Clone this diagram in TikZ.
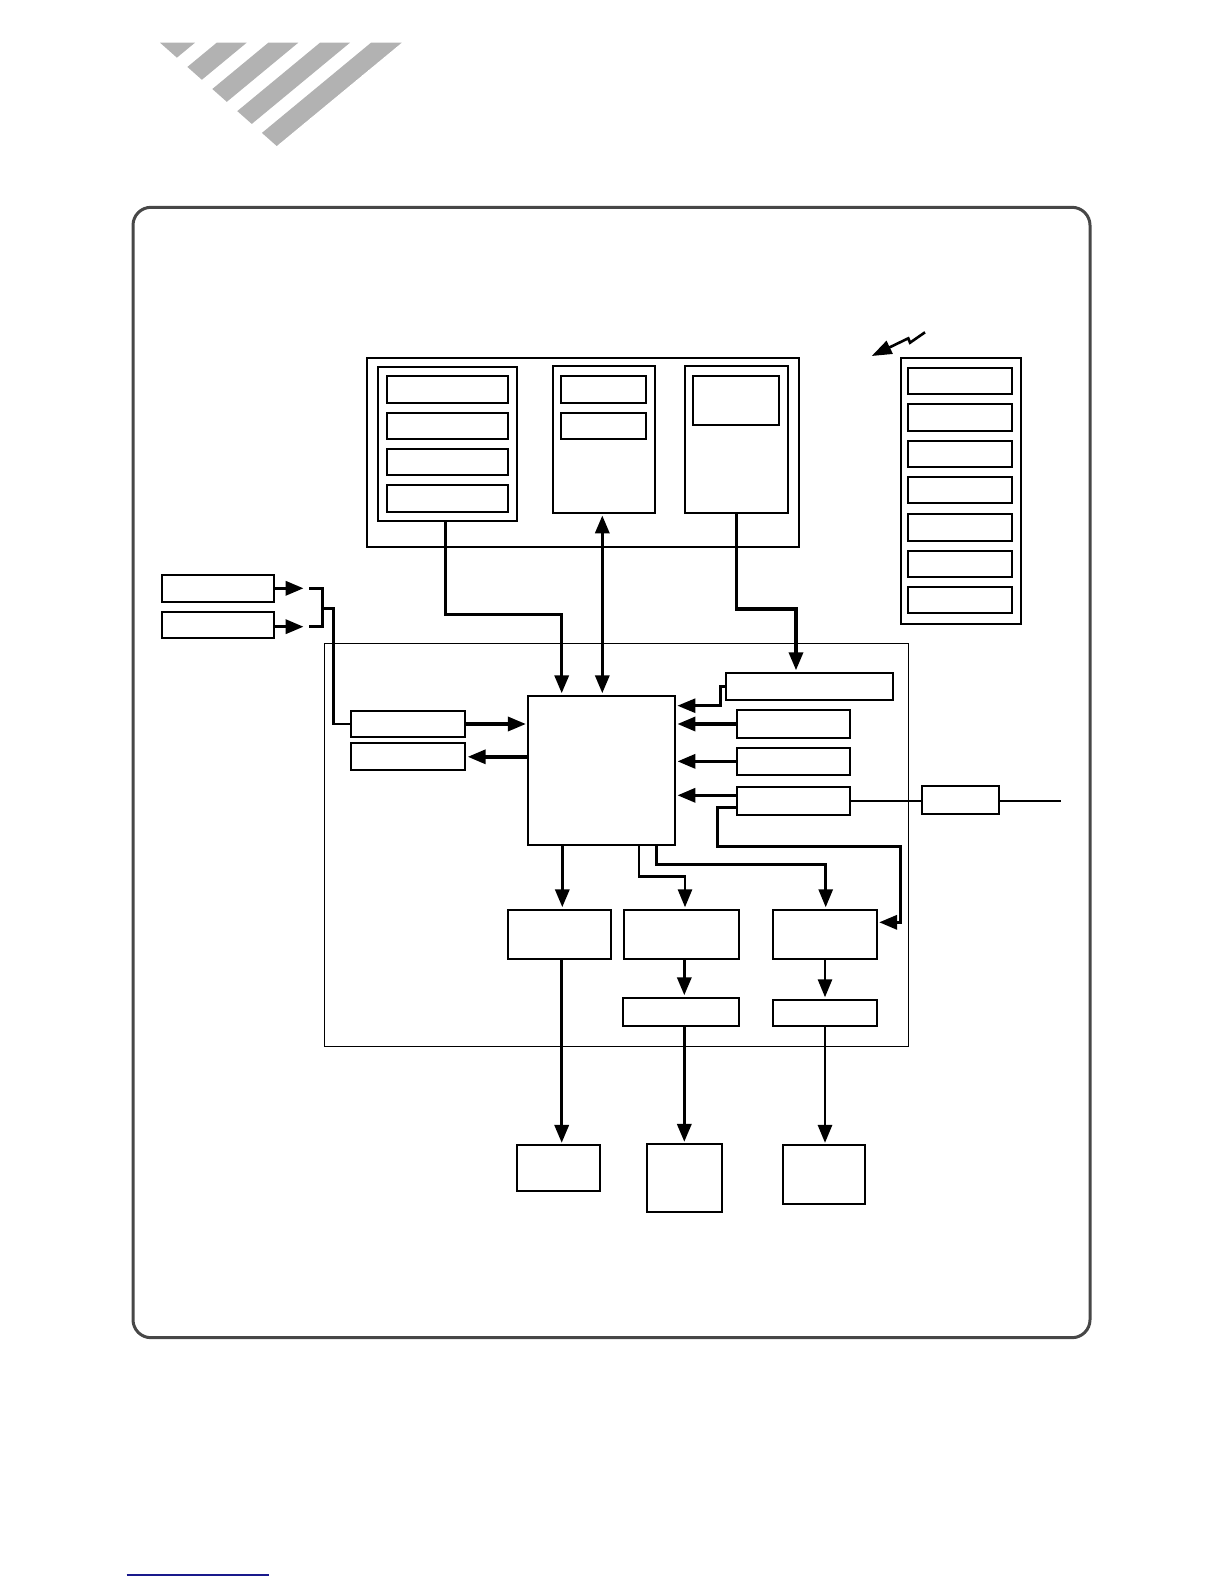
\documentclass[tikz,border=0pt]{standalone}
\usetikzlibrary{arrows.meta,fit,calc}
\newcommand\bx[6][]{\node[bx,fit={(#3,#4)(#5,#6)},#1] (#2) {};}
\begin{document}
\begin{tikzpicture}[x=0.5pt,y=-0.5pt,
  bx/.style={draw,line width=0.95pt,inner sep=0pt,outer sep=0pt},
  bxk/.style={line width=1.15pt},
  bxt/.style={line width=0.75pt},
  conn/.style={line width=1.7pt},
  connm/.style={line width=1.4pt},
  connt/.style={line width=1.1pt},
  arr/.style={-{Triangle[length=9pt,width=7pt]},shorten >=1.2pt},
  darr/.style={{Triangle[length=9pt,width=7pt]}-{Triangle[length=9pt,width=7pt]},shorten >=1.2pt,shorten <=1.2pt},
  outerframe/.style={draw=black!72,line width=1.5pt,rounded corners=9pt},
  stripe/.style={fill=black!30}]
\useasboundingbox (0,0) rectangle (1224,1584);
% stripes logo
\begin{scope}
\clip (160,42.7) -- (401.7,42.7) -- (276.7,146) -- cycle;
\foreach \a/\b in {155/195,216.7/246.7,268.3/298.3,320/350,371/402}{
  \fill[stripe] (\a,42.7) -- (\b,42.7) -- ($(\b,42.7)+(-133,110)$) -- ($(\a,42.7)+(-133,110)$) -- cycle;}
\end{scope}
% outer rounded frame
\draw[outerframe] (133,207.3) rectangle (1090,1337.7);
% blue footer line
\draw[draw={rgb,255:red,25;green,25;blue,140},line width=0.75pt] (126.7,1575) -- (269.3,1575);
% top group
\bx[bxk]{topg}{366.7}{357.7}{799.3}{546.7}
\bx{sa}{378.3}{366.7}{517.3}{521.3}
\bx{sa1}{387.3}{376}{508.3}{403}
\bx{sa2}{387.3}{412.7}{508.3}{439.3}
\bx{sa3}{387.3}{449.3}{508.3}{475.3}
\bx{sa4}{387.3}{485.3}{508.3}{512.3}
\bx{sb}{553.3}{366.3}{654.7}{513}
\bx{sb1}{561.3}{376}{645.7}{403}
\bx{sb2}{561.3}{412.7}{645.7}{439.3}
\bx{sc}{685.3}{366.3}{787.7}{513}
\bx{sc1}{693.3}{376}{778.7}{425.3}
% right stack
\bx[bxk]{rs}{900.7}{357.7}{1021}{624}
\bx{rs1}{908.3}{368.3}{1011.7}{394.3}
\bx{rs2}{908.3}{404.3}{1011.7}{430.7}
\bx{rs3}{908.3}{440.7}{1011.7}{467}
\bx{rs4}{908.3}{477}{1011.7}{503.3}
\bx{rs5}{908.3}{514}{1011.7}{540.7}
\bx{rs6}{908.3}{550.7}{1011.7}{577}
\bx{rs7}{908.3}{587}{1011.7}{613.3}
% lightning
\coordinate (lz1) at (925,332.3);
\coordinate (lz2) at (910,342.7);
\coordinate (lz3) at (908.3,338.3);
\coordinate (lz4) at (871.7,356);
\draw[line width=1.3pt,-{Triangle[length=10pt,width=7pt]}] (lz1) -- (lz2) -- (lz3) -- (lz4);
% left inputs
\bx{l1}{161.7}{575}{274.3}{602.3}
\bx{l2}{161.7}{611.7}{274.3}{638.3}
% main board
\bx[bxt]{board}{324.3}{643.3}{908.3}{1046.7}
\bx{m1}{351}{710.7}{465.3}{737.3}
\bx{m2}{351}{743.3}{465.3}{770.3}
\bx{cpu}{528.3}{695.7}{675}{845}
\bx{r1}{725.7}{672.7}{893.3}{700}
\bx{r2}{736.7}{710.3}{849.7}{737.7}
\bx{r3}{736.7}{747.7}{849.7}{775}
\bx{r4}{736.7}{787.3}{849.7}{814.7}
\bx{r5}{922.3}{786.3}{998.7}{814}
\bx{b1}{507.7}{909.7}{611.3}{959}
\bx{b2}{624.3}{909.7}{739.3}{959}
\bx{b3}{773.3}{909.7}{876.7}{959}
\bx{c2}{623.3}{997.7}{739.3}{1026.3}
\bx{c3}{773.3}{999.7}{876.7}{1026.3}
\bx{d1}{516.7}{1145.3}{600.3}{1191}
\bx{d2}{646.7}{1144.3}{722.3}{1212.3}
\bx{d3}{783.3}{1145.3}{864.7}{1204.3}
% connectors from top group
\draw[conn,arr] (445.7,0 |- sa.south) -- (445.7,614.3) -| (561.7,0 |- cpu.north);
\draw[conn,darr] (602.3,0 |- sb.south) -- (602.3,0 |- cpu.north);
\draw[conn,arr] (736.7,0 |- sc.south) -- (736.7,609) -| (796,0 |- r1.north);
% left inputs to bracket
\coordinate (jn1) at (306,588.3);
\coordinate (jn2) at (306,626.7);
\draw[conn,arr] (l1.east |- jn1) -- (jn1);
\draw[conn,arr] (l2.east |- jn2) -- (jn2);
\draw[connm] (309.3,588.3) -- (322.3,588.3) -- (322.3,626.7) -- (309.3,626.7);
\draw[connm] (322.3,608.3) -| (333.7,0 |- m1.west) -- (m1.west);
\draw[conn,arr] (m1.east) -- (cpu.west |- m1.east);
\draw[conn,arr] (cpu.west |- m2.east) -- (m2.east);
% right side into cpu
\draw[connm,arr] (r1.west) -- (720.3,0 |- r1.west) -- (720.3,705.7) -- (cpu.east |- 0,705.7);
\draw[conn,arr] (r2.west) -- (cpu.east |- r2.west);
\draw[conn,arr] (r3.west) -- (cpu.east |- r3.west);
\draw[conn,arr] (r4.west |- 0,795.3) -- (cpu.east |- 0,795.3);
\coordinate (ext) at (1061,801);
\draw[connt] (r4.east |- ext) -- (r5.west |- ext);
\draw[connt] (r5.east |- ext) -- (ext);
\draw[conn,arr] (r4.west |- 0,807.7) -- (717.3,807.7) -- (717.3,846.3) -- (900.7,846.3) -- (900.7,922.3) -- (b3.east |- 0,922.3);
% cpu to lower row
\draw[conn,arr] (562.3,0 |- cpu.south) -- (562.3,0 |- b1.north);
\draw[connm,arr] (639,0 |- cpu.south) -- (639,876.7) -| (685,0 |- b2.north);
\draw[connm,arr] (656.7,0 |- cpu.south) -- (656.7,864.3) -| (825.7,0 |- b3.north);
\draw[conn,arr] (561.7,0 |- b1.south) -- (561.7,0 |- d1.north);
\draw[conn,arr] (684.3,0 |- b2.south) -- (684.3,0 |- c2.north);
\draw[connm,arr] (825,0 |- b3.south) -- (825,0 |- c3.north);
\draw[conn,arr] (684.3,0 |- c2.south) -- (684.3,0 |- d2.north);
\draw[connm,arr] (825,0 |- c3.south) -- (825,0 |- d3.north);
\end{tikzpicture}
\end{document}
